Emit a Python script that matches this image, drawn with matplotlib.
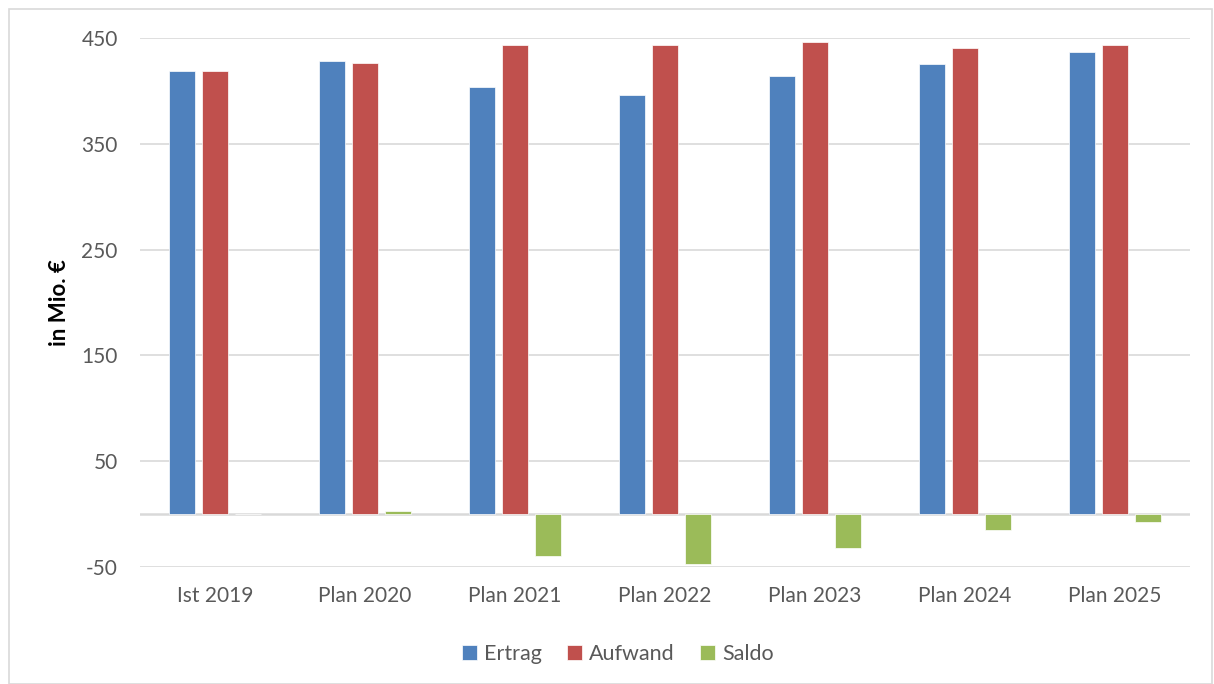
import numpy as np
import matplotlib.pyplot as plt
from matplotlib.patches import Rectangle

# Werte (in Mio. EUR)
categories = ["Ist 2019", "Plan 2020", "Plan 2021", "Plan 2022", "Plan 2023", "Plan 2024", "Plan 2025"]
ertrag = [419, 428.5, 403.5, 396, 414.5, 425.5, 436.5]
aufwand = [419, 426, 443.5, 443.5, 446.5, 441, 443.5]
saldo = [0, 2.5, -40, -47.5, -32, -15.5, -7]
yticks = [-50, 50, 150, 250, 350, 450]

plt.rcParams['font.family'] = ['Lato', 'DejaVu Sans']
plt.rcParams['axes.unicode_minus'] = False

fig = plt.figure(figsize=(12.14, 6.84), dpi=100)
ax = fig.add_axes([140/1214, 1 - 567/684, 1050/1214, 529/684])

# heller Rahmen um das Diagramm
fig.patches.append(Rectangle((9/1214, 0), 1 - 11/1214, 1 - 9/684, transform=fig.transFigure,
                             fill=False, edgecolor='#D9D9D9', linewidth=1.2))

x = np.arange(len(categories))
w = 0.175
off = 0.22
ax.bar(x - off, ertrag, w, color='#4F81BD', edgecolor='white', linewidth=0.5, label='Ertrag', zorder=3)
ax.bar(x, aufwand, w, color='#C0504D', edgecolor='white', linewidth=0.5, label='Aufwand', zorder=3)
ax.bar(x + off, saldo, w, color='#9BBB59', edgecolor='white', linewidth=0.5, label='Saldo', zorder=3)

ax.set_xlim(-0.5, len(categories) - 0.5)
ax.set_ylim(-50, 450)
ax.set_yticks(yticks)
ax.set_xticks(x)
ax.set_xticklabels(categories)
ax.yaxis.grid(True, color='#D9D9D9', linewidth=1.2, zorder=0)
ax.axhline(0, color='#D9D9D9', linewidth=1.8, zorder=2)
for s in ax.spines.values():
    s.set_visible(False)
ax.tick_params(length=0, labelsize=15, labelcolor='#595959')
ax.tick_params(axis='x', pad=14)
ax.tick_params(axis='y', pad=16)

ax.set_ylabel('in Mio. €', fontsize=16, fontweight='bold', color='black', labelpad=8)

ax.legend(loc='upper center', bbox_to_anchor=(0.455, -0.109), ncol=3, frameon=False,
          fontsize=15.5, labelcolor='#595959', handlelength=0.7, handleheight=0.7,
          handletextpad=0.3, columnspacing=1.2)

fig.savefig('out.png', dpi=100)
